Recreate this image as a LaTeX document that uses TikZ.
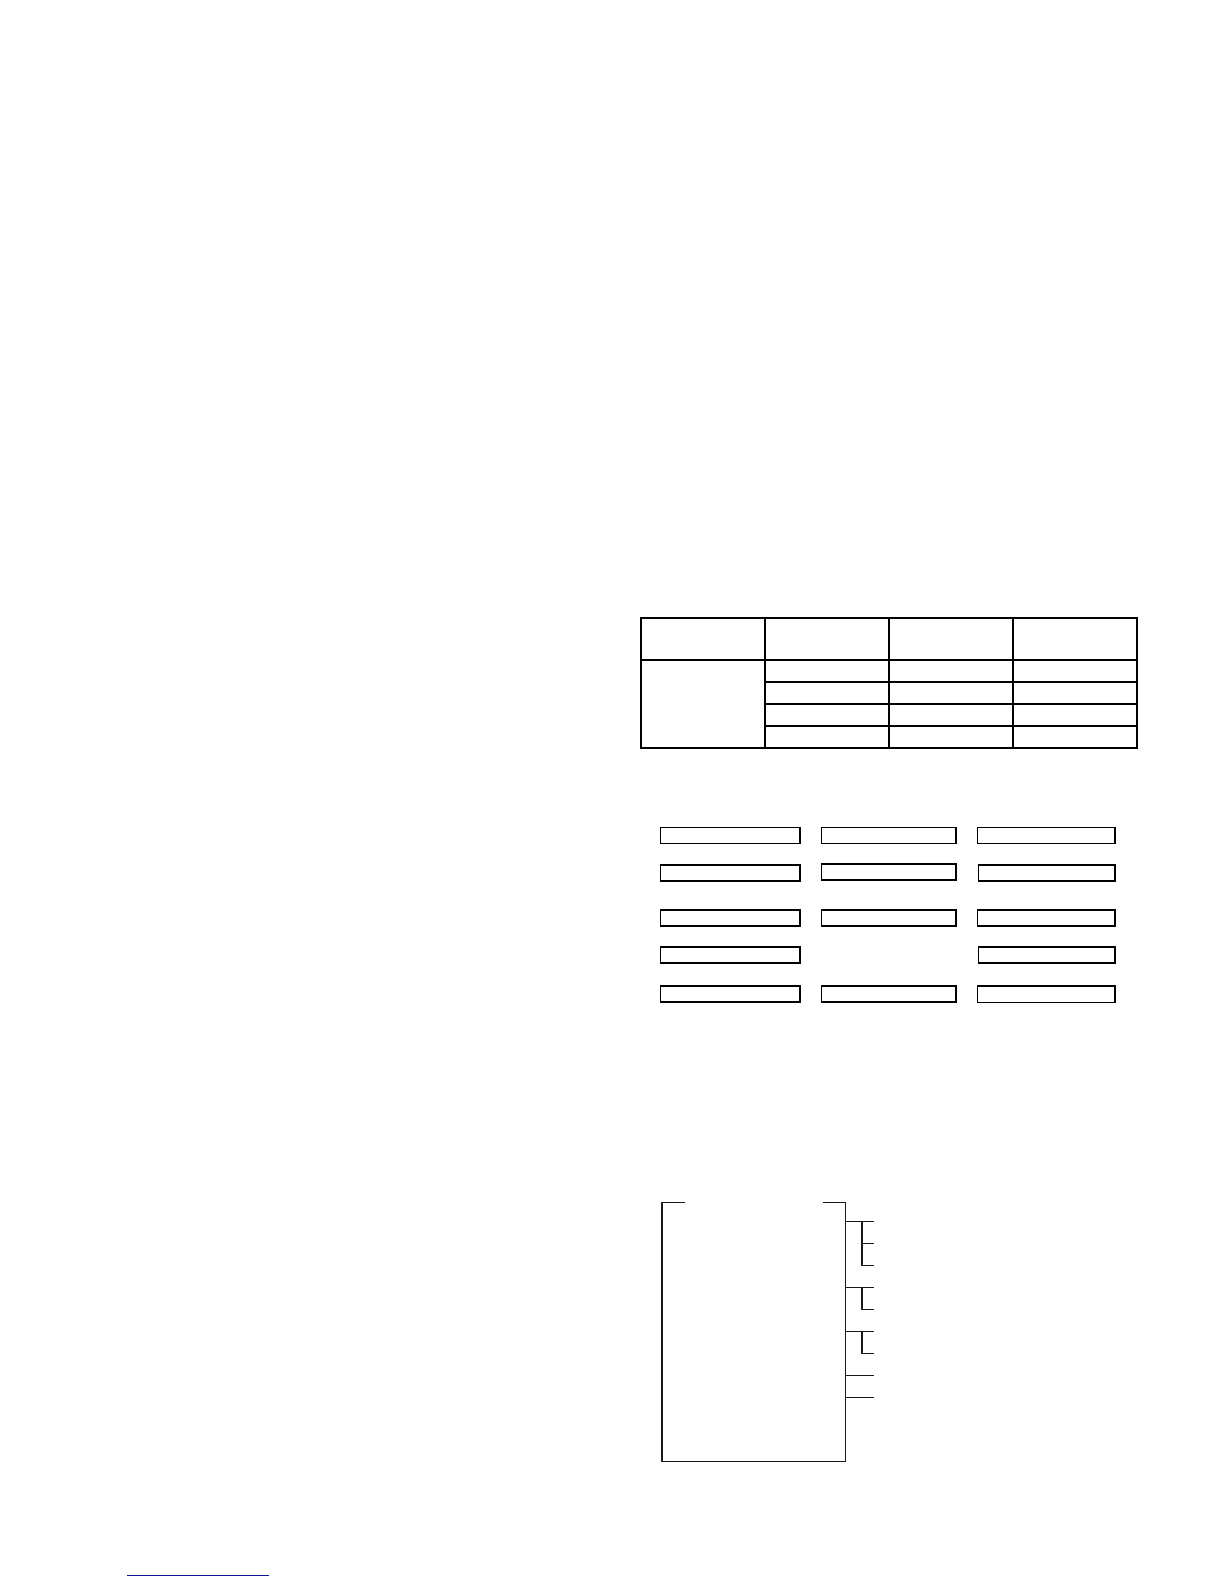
\documentclass[tikz,border=0pt]{standalone}
\begin{document}
\begin{tikzpicture}[x=0.5pt,y=-0.5pt,
  tline/.style={line width=1pt,black},
  box/.style={draw=black,line width=0.8pt,inner sep=0pt,outer sep=0pt,minimum height=8pt,anchor=north west},
  brk/.style={line width=0.8pt,black!90}]
\useasboundingbox (0,0) rectangle (1224,1584);
\fill[white] (0,0) rectangle (1224,1584);
% table
\node[draw=black,line width=1pt,inner sep=0pt,outer sep=0pt,anchor=north west,minimum width=248pt,minimum height=65pt] (tab) at (640.7,618.3) {};
\coordinate (c1t) at (765.3,618.3); \coordinate (c1b) at (765.3,748.3);
\coordinate (c2t) at (889.3,618.3); \coordinate (c2b) at (889.3,748.3);
\coordinate (c3t) at (1013.3,618.3); \coordinate (c3b) at (1013.3,748.3);
\draw[tline] (c1t) -- (c1b) (c2t) -- (c2b) (c3t) -- (c3b);
\coordinate (h0l) at (640.7,660); \coordinate (h0r) at (1136.7,660);
\draw[tline] (h0l) -- (h0r);
\foreach \yy in {682.3,704,726}{\draw[tline] (765.3,\yy) -- (1136.7,\yy);}
% boxes
\node[box,minimum width=69.7pt] (b11) at (660.3,827.3) {};
\node[box,minimum width=67.2pt] (b12) at (821.3,827.3) {};
\node[box,minimum width=68.7pt] (b13) at (977.3,827.3) {};
\node[box,minimum width=69.7pt] (b21) at (660.3,865) {};
\node[box,minimum width=67.2pt] (b22) at (821.3,864) {};
\node[box,minimum width=68.2pt] (b23) at (978.3,865) {};
\node[box,minimum width=69.7pt] (b31) at (660.3,910) {};
\node[box,minimum width=67.2pt] (b32) at (821.3,910) {};
\node[box,minimum width=68.7pt] (b33) at (977.3,910) {};
\node[box,minimum width=69.7pt] (b41) at (660.3,947) {};
\node[box,minimum width=68.2pt] (b43) at (978.3,947) {};
\node[box,minimum width=69.7pt] (b51) at (660.3,986) {};
\node[box,minimum width=67.2pt] (b52) at (821.3,986) {};
\node[box,minimum width=68.7pt,minimum height=8.2pt] (b53) at (977.3,986) {};
% bracket frame
\coordinate (tl) at (685,1202.3); \coordinate (tr) at (823.3,1202.3);
\coordinate (cl) at (661.7,1202.3); \coordinate (cr) at (845.3,1202.3);
\coordinate (bl) at (661.7,1461.3); \coordinate (br) at (845.3,1461.3);
\draw[brk] (tl) -- (cl) -- (bl) -- (br) -- (cr) -- (tr);
% branches
\coordinate (a1) at (845.3,1221.3); \coordinate (a1e) at (874,1221.3);
\coordinate (v1) at (861.7,1221.3); \coordinate (v1b) at (861.7,1265.3);
\coordinate (a11) at (861.7,1243.3); \coordinate (a11e) at (874,1243.3);
\coordinate (a12e) at (874,1265.3);
\draw[brk] (a1) -- (a1e) (v1) -- (v1b) -- (a12e) (a11) -- (a11e);
\coordinate (a2) at (845.3,1287.3); \coordinate (a2e) at (874,1287.3);
\coordinate (v2) at (861.7,1287.3); \coordinate (v2b) at (861.7,1309.3);
\coordinate (a21e) at (874,1309.3);
\draw[brk] (a2) -- (a2e) (v2) -- (v2b) -- (a21e);
\coordinate (a3) at (845.3,1331.3); \coordinate (a3e) at (874,1331.3);
\coordinate (v3) at (861.7,1331.3); \coordinate (v3b) at (861.7,1353.3);
\coordinate (a31e) at (874,1353.3);
\draw[brk] (a3) -- (a3e) (v3) -- (v3b) -- (a31e);
\coordinate (a4) at (845.3,1375.3); \coordinate (a4e) at (874,1375.3);
\coordinate (a5) at (845.3,1397.3); \coordinate (a5e) at (874,1397.3);
\draw[brk] (a4) -- (a4e) (a5) -- (a5e);
% blue rule
\coordinate (ul) at (127.3,1575.3); \coordinate (ur) at (268.7,1575.3);
\draw[line width=0.7pt,color={rgb,255:red,20;green,20;blue,150}] (ul) -- (ur);
\end{tikzpicture}
\end{document}
